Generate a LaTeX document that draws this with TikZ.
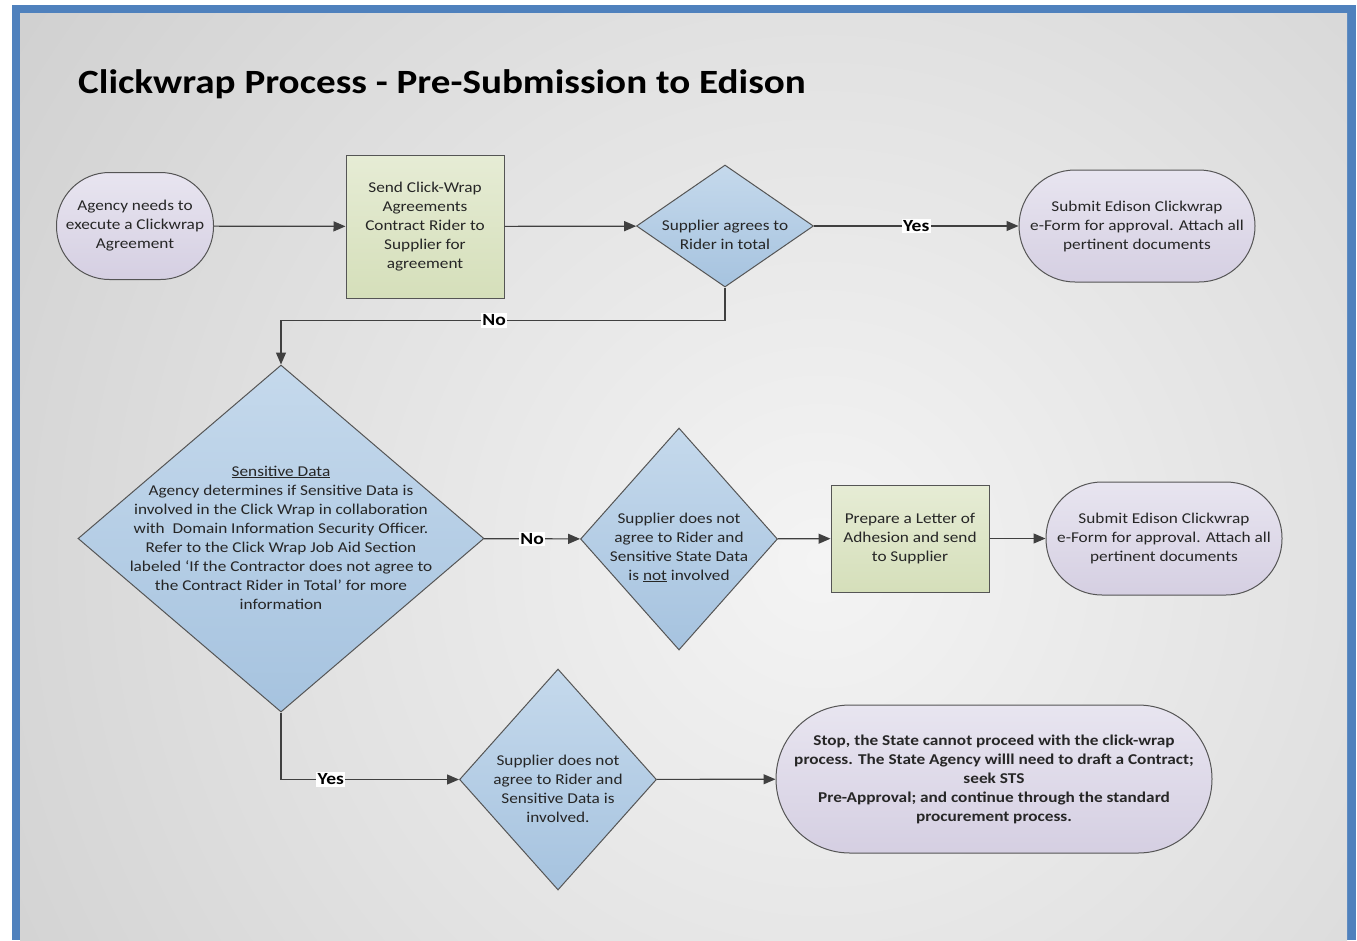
\documentclass[tikz,border=0pt]{standalone}
\usepackage{fontspec}
\setmainfont{Carlito}[FakeStretch=1.15]
\usetikzlibrary{shapes.geometric,arrows.meta}
\definecolor{frameblue}{HTML}{4F81BD}
\definecolor{bgin}{HTML}{F4F4F4}
\definecolor{bgmid}{HTML}{E2E2E2}
\definecolor{bgout}{HTML}{C0C0C0}
\definecolor{lavtop}{HTML}{E8E5F0}
\definecolor{lavbot}{HTML}{D5CFE2}
\definecolor{greentop}{HTML}{E6ECD5}
\definecolor{greenbot}{HTML}{D5DFBA}
\definecolor{bluetop}{HTML}{C5D9EC}
\definecolor{bluebot}{HTML}{A6C3DF}
\definecolor{shapeline}{HTML}{555555}
\definecolor{connline}{HTML}{404040}
\definecolor{txtcol}{HTML}{262626}
\pgfdeclareradialshading{bgglow}{\pgfpoint{0bp}{0bp}}{color(0bp)=(bgin); color(8bp)=(bgmid); color(22bp)=(bgout); color(50bp)=(bgout)}
\begin{document}
\begin{tikzpicture}[x=1pt,y=-1pt,
  nodefont/.style={font=\fontsize{15}{19}\selectfont, text=txtcol},
  termbox/.style={rectangle, draw=shapeline, line width=1pt, top color=lavtop, bottom color=lavbot, align=center, inner sep=0pt, nodefont},
  procbox/.style={rectangle, draw=shapeline, line width=1pt, top color=greentop, bottom color=greenbot, align=center, inner sep=0pt, nodefont},
  decbox/.style={diamond, draw=shapeline, line width=1pt, top color=bluetop, bottom color=bluebot, inner sep=0pt},
  dectext/.style={align=center, inner sep=0pt, nodefont},
  conn/.style={draw=connline, line width=1.2pt, -{Triangle[length=12pt,width=10pt]}},
  lbl/.style={fill=white, inner sep=1.5pt, text=black, font=\fontsize{17}{20}\selectfont\bfseries}]
\useasboundingbox (0,0) rectangle (1357,940);
% frame and background
\fill[white] (0,0) rectangle (1357,940);
\fill[frameblue] (12,5) rectangle (1356,940);
\begin{scope}
  \clip (20,13) rectangle (1347,940);
  \fill[bgout] (20,13) rectangle (1347,940);
  \shade[shading=bgglow] (820,560) circle (1600);
\end{scope}
% title
\node[anchor=base west, inner sep=0pt, text=black, font=\fontsize{34}{40}\selectfont\bfseries] (title) at (78,93) {Clickwrap Process - Pre-Submission to Edison};
% nodes
\node[termbox, rounded corners=53pt, minimum width=157pt, minimum height=107pt] (start) at (135,226) {Agency needs to\\execute a Clickwrap\\Agreement};
\node[procbox, minimum width=158pt, minimum height=143pt] (send) at (425,226.5) {Send Click-Wrap\\Agreements\\Contract Rider to\\Supplier for\\agreement};
\node[decbox, minimum width=177pt, minimum height=122pt] (agree) at (725,226) {};
\node[dectext] (agreet) at (725,235) {Supplier agrees to\\Rider in total};
\node[termbox, rounded corners=56pt, minimum width=236pt, minimum height=112pt] (submit1) at (1137,226) {Submit Edison Clickwrap\\e-Form for approval. Attach all\\pertinent documents};
\node[decbox, minimum width=406pt, minimum height=347pt] (sens) at (281,538.5) {};
\node[dectext] (senst) at (281,537.5) {\underline{Sensitive Data}\\Agency determines if Sensitive Data is\\involved in the Click Wrap in collaboration\\with\ \ Domain Information Security Officer.\\Refer to the Click Wrap Job Aid Section\\labeled ‘If the Contractor does not agree to\\the Contract Rider in Total’ for more\\information};
\node[decbox, minimum width=197pt, minimum height=222pt] (notinv) at (679,539) {};
\node[dectext] (notinvt) at (679,547.5) {Supplier does not\\agree to Rider and\\Sensitive State Data\\is \underline{not} involved};
\node[procbox, minimum width=158pt, minimum height=107pt] (letter) at (910,538.5) {Prepare a Letter of\\Adhesion and send\\to Supplier};
\node[termbox, rounded corners=56pt, minimum width=236pt, minimum height=113pt] (submit2) at (1164,538.5) {Submit Edison Clickwrap\\e-Form for approval. Attach all\\pertinent documents};
\node[decbox, minimum width=197pt, minimum height=221pt] (inv) at (558,779.5) {};
\node[dectext] (invt) at (558,788.5) {Supplier does not\\agree to Rider and\\Sensitive Data is\\involved.};
\node[termbox, rounded corners=74pt, minimum width=436pt, minimum height=148pt, font=\fontsize{15}{19}\selectfont\bfseries] (stop) at (994,779) {Stop, the State cannot proceed with the click-wrap\\process. The State Agency willl need to draft a Contract;\\seek STS\\Pre-Approval; and continue through the standard\\procurement process.};
% connectors
\draw[conn] (start) -- (send);
\draw[conn] (send) -- (agree);
\draw[conn] (agree) -- node[lbl] (yes1) {Yes} (submit1);
\draw[conn] (agree.south) -- ++(0,33) -| node[lbl, pos=0.26] (no1) {No} (sens.north);
\draw[conn] (sens) -- node[lbl] (no2) {No} (notinv);
\draw[conn] (notinv) -- (letter);
\draw[conn] (letter) -- (submit2);
\draw[conn] (sens.south) |- node[lbl, pos=0.64] (yes2) {Yes} (inv.west);
\draw[conn] (inv) -- (stop);
\end{tikzpicture}
\end{document}
